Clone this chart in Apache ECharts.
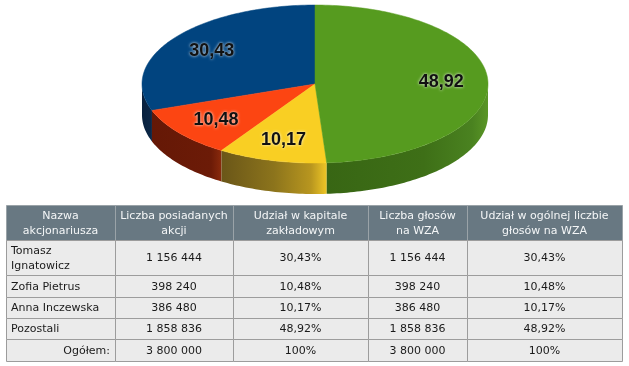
<!DOCTYPE html>
<html>
<head>
<meta charset="utf-8">
<script src="https://cdn.jsdelivr.net/npm/echarts@6/dist/echarts.min.js"></script>
<style>
html,body{margin:0;padding:0;background:#fff;}
#chart{width:629px;height:366px;}
</style>
</head>
<body>
<div id="chart"></div>
<script>
// ---- data ----
var holders = ['Tomasz Ignatowicz', 'Zofia Pietrus', 'Anna Inczewska', 'Pozostali'];
var holderLabels = ['Tomasz\nIgnatowicz', 'Zofia Pietrus', 'Anna Inczewska', 'Pozostali'];
var pieShares = [30.43, 10.48, 10.17, 48.92];
var pieLabels = ['30,43', '10,48', '10,17', '48,92'];
var shareCounts = ['1 156 444', '398 240', '386 480', '1 858 836'];
var capitalPct = ['30,43%', '10,48%', '10,17%', '48,92%'];
var voteCounts = ['1 156 444', '398 240', '386 480', '1 858 836'];
var votePct = ['30,43%', '10,48%', '10,17%', '48,92%'];
var totalRow = ['Ogółem:', '3 800 000', '100%', '3 800 000', '100%'];
var headers = ['Nazwa\nakcjonariusza', 'Liczba posiadanych\nakcji', 'Udział w kapitale\nzakładowym', 'Liczba głosów\nna WZA', 'Udział w ogólnej liczbie\ngłosów na WZA'];

// ---- styles / layout ----
var topColors = ['#01447f', '#fc4512', '#f9cf23', '#569b1f'];
var sideColors = [
  [[0, '#08203d'], [1, '#0c2848']],
  [[0, '#651806'], [0.85, '#6c1b07'], [1, '#8a2a0c']],
  [[0, '#6a5618'], [0.5, '#8c741c'], [0.85, '#b8961f'], [1, '#eec626']],
  [[0, '#386614'], [0.6, '#3e6f17'], [0.9, '#4a8220'], [1, '#5a9626']]
];
var PIE = {cx: 315, cy: 84, rx: 173, ry: 79, depth: 31, labelR: 0.73};
var colX = [6, 115, 233, 368, 467, 622];
var rowY = [205, 240, 275, 297, 318, 339, 361];
var FONT = 'DejaVu Sans';

var chart = echarts.init(document.getElementById('chart'), null, {renderer: 'canvas'});
var total = pieShares.reduce(function (a, b) { return a + b; }, 0);

function pt(th, dy) {
  return [PIE.cx + PIE.rx * Math.cos(th), PIE.cy - PIE.ry * Math.sin(th) + (dy || 0)];
}
function arc(a, b, dy) {
  var n = Math.max(4, Math.ceil(Math.abs(b - a) / 0.02));
  var out = [];
  for (var i = 0; i <= n; i++) out.push(pt(a + (b - a) * i / n, dy));
  return out;
}

function renderItem(params, api) {
  var idx = params.dataIndex;
  var before = 0;
  for (var i = 0; i < idx; i++) before += pieShares[i];
  var v = api.value(0);
  var a = Math.PI / 2 + before / total * 2 * Math.PI;
  var b = a + v / total * 2 * Math.PI;
  var children = [];
  // side wall (front half: PI..2PI)
  var s = Math.max(a, Math.PI), e = Math.min(b, 2 * Math.PI);
  if (e > s) {
    var topEdge = arc(s, e, 0);
    var botEdge = arc(s, e, PIE.depth).reverse();
    children.push({
      type: 'polygon',
      shape: {points: topEdge.concat(botEdge)},
      style: {fill: new echarts.graphic.LinearGradient(0, 0, 1, 0, sideColors[idx].map(function (c) { return {offset: c[0], color: c[1]}; }))},
      z2: 1
    });
  }
  // top face
  var pts = [[PIE.cx, PIE.cy]].concat(arc(a, b, 0));
  children.push({
    type: 'polygon',
    shape: {points: pts},
    style: {fill: topColors[idx], stroke: topColors[idx], lineWidth: 0.5},
    z2: 2
  });
  // label
  var m = (a + b) / 2;
  children.push({
    type: 'text',
    x: PIE.cx + PIE.rx * PIE.labelR * Math.cos(m),
    y: PIE.cy - PIE.ry * PIE.labelR * Math.sin(m),
    style: {
      text: pieLabels[idx],
      align: 'center', verticalAlign: 'middle',
      font: 'bold 18px "Liberation Sans", Arial, sans-serif',
      fill: '#111',
      textShadowColor: 'rgba(255,255,255,0.95)',
      textShadowBlur: 3
    },
    z2: 3
  });
  return {type: 'group', children: children};
}

// ---- table graphic ----
var g = [];
function cellRect(x0, y0, x1, y1, fill, stroke) {
  g.push({type: 'rect', shape: {x: x0 + 0.5, y: y0 + 0.5, width: x1 - x0, height: y1 - y0},
    style: {fill: fill, stroke: stroke, lineWidth: 1}, silent: true, z: 1});
}
function cellText(txt, x, y, align, color) {
  g.push({type: 'text', x: x, y: y, silent: true, z: 2,
    style: {text: txt, align: align, verticalAlign: 'middle', fill: color,
      font: '11px "' + FONT + '", sans-serif', lineHeight: 15}});
}
// header
for (var c = 0; c < headers.length; c++) {
  cellRect(colX[c], rowY[0], colX[c + 1], rowY[1], '#687882', '#9aa3a8');
  cellText(headers[c], (colX[c] + colX[c + 1]) / 2, (rowY[0] + rowY[1]) / 2 + 1, 'center', '#f4f6f7');
}
var bodyCols = [holderLabels, shareCounts, capitalPct, voteCounts, votePct];
for (var r = 0; r < holders.length; r++) {
  var y0 = rowY[r + 1], y1 = rowY[r + 2], ym = (y0 + y1) / 2 + 1;
  for (var c2 = 0; c2 < bodyCols.length; c2++) {
    cellRect(colX[c2], y0, colX[c2 + 1], y1, '#ebebeb', '#9c9c9c');
    if (c2 === 0) cellText(bodyCols[c2][r], colX[0] + 5, ym, 'left', '#1a1a1a');
    else cellText(bodyCols[c2][r], (colX[c2] + colX[c2 + 1]) / 2, ym, 'center', '#1a1a1a');
  }
}
var ty0 = rowY[5], ty1 = rowY[6];
for (var c3 = 0; c3 < totalRow.length; c3++) {
  cellRect(colX[c3], ty0, colX[c3 + 1], ty1, '#ebebeb', '#9c9c9c');
  if (c3 === 0) cellText(totalRow[c3], colX[1] - 5, (ty0 + ty1) / 2 + 1, 'right', '#1a1a1a');
  else cellText(totalRow[c3], (colX[c3] + colX[c3 + 1]) / 2, (ty0 + ty1) / 2 + 1, 'center', '#1a1a1a');
}

chart.setOption({
  backgroundColor: '#fff',
  animation: false,
  series: [{
    type: 'custom',
    coordinateSystem: 'none',
    renderItem: renderItem,
    data: pieShares.map(function (v, i) { return {name: holders[i], value: [v]}; })
  }],
  graphic: g
});
</script>
</body>
</html>
